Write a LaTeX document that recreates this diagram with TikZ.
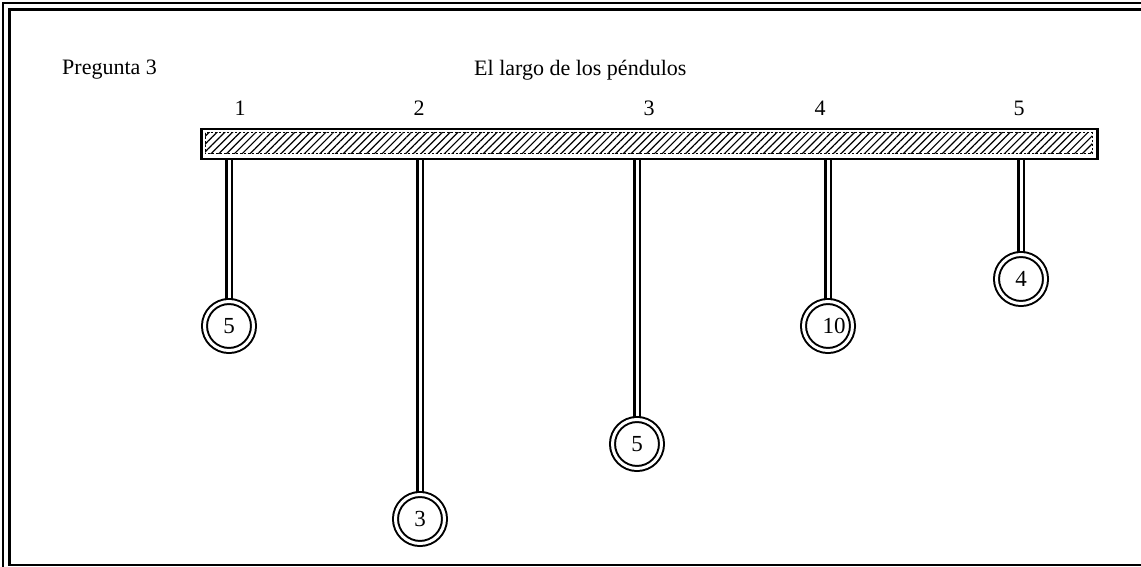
\documentclass[tikz,border=0pt]{standalone}
\usepackage{fontspec}
\setmainfont{Liberation Serif}
\usetikzlibrary{patterns.meta}
\begin{document}
\begin{tikzpicture}[x=1pt,y=-1pt,
  lbl/.style={font=\fontsize{22}{26}\selectfont, inner sep=0},
  bob/.style={circle, draw, line width=2pt, double=white, double distance=3pt, minimum size=49pt, inner sep=0, font=\fontsize{23}{26}\selectfont},
  wire/.style={draw, line width=2.1pt, double=white, double distance=3pt}]
\useasboundingbox (0,0) rectangle (1141,567);
\clip (0,0) rectangle (1141,567);
% frame
\draw[line width=1.2pt] (3,3) rectangle (1160,590);
\draw[line width=2.6pt] (9.5,9.5) rectangle (1142.3,565);
% titles
\node[lbl, anchor=west] (t1) at (62,70) {Pregunta 3};
\node[lbl, anchor=west] (t2) at (474,70) {El largo de los péndulos};
% numbers
\node[lbl] (n1) at (240,108) {1};
\node[lbl] (n2) at (419,108) {2};
\node[lbl] (n3) at (649,108) {3};
\node[lbl] (n4) at (820,108) {4};
\node[lbl] (n5) at (1019,108) {5};
% bar
\node[draw, line width=2.5pt, minimum width=896pt, minimum height=30pt, anchor=north west, inner sep=0] (bar) at (200,128) {};
\fill[pattern={Lines[angle=45,distance=5.5pt,line width=1.2pt]}] (205,133) rectangle (1092,154);
\draw[line width=1pt, dash pattern=on 2pt off 2pt] (205,133) rectangle (1092,154);
% bobs
\coordinate (c1) at (229,326);
\coordinate (c2) at (420,519);
\coordinate (c3) at (637,444);
\coordinate (c4) at (828,326);
\coordinate (c5) at (1021,279);
\draw[wire] (bar.south -| c1) -- (c1);
\draw[wire] (bar.south -| c2) -- (c2);
\draw[wire] (bar.south -| c3) -- (c3);
\draw[wire] (bar.south -| c4) -- (c4);
\draw[wire] (bar.south -| c5) -- (c5);
\node[bob, fill=white] (b1) at (c1) {5};
\node[bob, fill=white] (b2) at (c2) {3};
\node[bob, fill=white] (b3) at (c3) {5};
\node[bob, fill=white] (b4) at (c4) {\hspace*{12pt}10};
\node[bob, fill=white] (b5) at (c5) {4};
\end{tikzpicture}
\end{document}
